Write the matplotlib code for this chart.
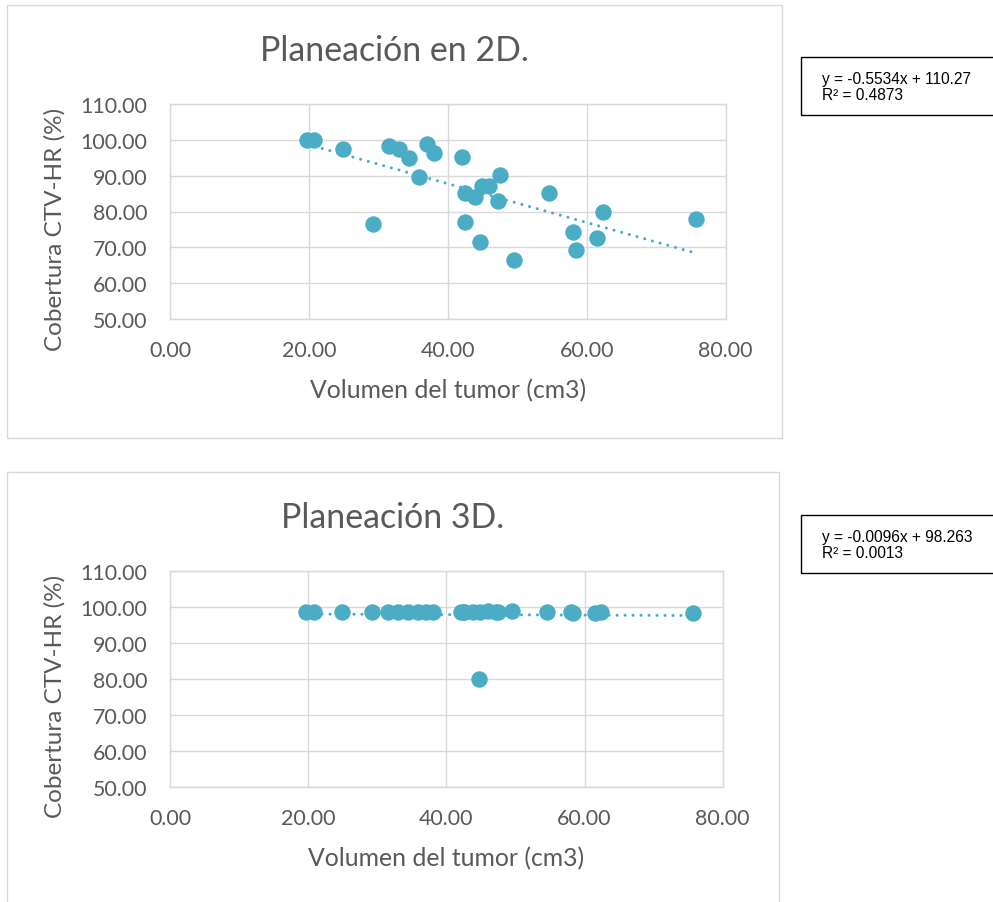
import numpy as np
import matplotlib
matplotlib.use("Agg")
import matplotlib.pyplot as plt
from matplotlib.patches import Rectangle
from matplotlib.ticker import FormatStrFormatter, MultipleLocator

# ---------------- data ----------------
volumen = [19.7, 20.8, 24.9, 29.2, 31.6, 33.0, 34.4, 35.9, 37.0, 38.0,
           42.1, 42.5, 42.5, 43.9, 44.7, 44.9, 46.0, 47.2, 47.5, 49.5,
           54.5, 58.0, 58.4, 61.5, 62.4, 75.7]
cobertura_2d = [100.0, 100.0, 97.4, 76.5, 98.2, 97.4, 94.9, 89.5, 98.8, 96.3,
                95.3, 85.3, 77.2, 84.0, 71.4, 87.0, 87.2, 82.9, 90.2, 66.6,
                85.3, 74.4, 69.3, 72.7, 79.8, 77.8]
cobertura_3d = [98.5, 98.5, 98.7, 98.7, 98.5, 98.6, 98.5, 98.5, 98.5, 98.5,
                98.5, 98.5, 98.6, 98.6, 80.0, 98.5, 98.9, 98.5, 98.6, 98.8,
                98.5, 98.7, 98.4, 98.4, 98.6, 98.4]
titles = ["Planeación en 2D.", "Planeación 3D."]
equations = ["y = -0.5534x + 110.27\nR² = 0.4873",
             "y = -0.0096x + 98.263\nR² = 0.0013"]
xlabel = "Volumen del tumor (cm3)"
ylabel = "Cobertura CTV-HR (%)"

# ---------------- styling ----------------
W, H = 993, 903
FONT = "Lato"
TXT = "#595959"
GRID = "#D9D9D9"
MARK = "#4BACC6"

fig = plt.figure(figsize=(W / 100, H / 100), dpi=100)
fig.patch.set_facecolor("white")


def fx(px):
    return px / W


def fy(py):
    return 1 - py / H


def frame(x0, y0, x1, y1, color, lw):
    r = Rectangle((fx(x0), fy(y1)), fx(x1) - fx(x0), fy(y0) - fy(y1),
                  transform=fig.transFigure, fill=False, edgecolor=color,
                  linewidth=lw, clip_on=False)
    fig.add_artist(r)


layouts = [
    dict(frame=(6.7, 6, 782, 439), plot=(170, 105, 725.6, 320), title_y=51,
         ylab_y=229, box=(58, 116)),
    dict(frame=(6.7, 473, 779, 930), plot=(170, 572, 722.7, 787.7), title_y=518,
         ylab_y=696, box=(516, 574)),
]

series = [cobertura_2d, cobertura_3d]

for i, lay in enumerate(layouts):
    fx0, fy0, fx1, fy1 = lay["frame"]
    frame(fx0, fy0, fx1, fy1, GRID, 1.0)
    l, t, r, b = lay["plot"]
    ax = fig.add_axes([fx(l), fy(b), fx(r) - fx(l), fy(t) - fy(b)])
    x = np.array(volumen)
    y = np.array(series[i])

    ax.scatter(x, y, s=140, color=MARK, zorder=3, linewidths=0)
    m, c = np.polyfit(x, y, 1)
    xs = np.array([x.min(), x.max()])
    ax.plot(xs, m * xs + c, color=MARK, lw=2.2, linestyle=(0, (0.01, 2.6)),
            dash_capstyle="round", zorder=4)

    ax.set_xlim(0, 80)
    ax.set_ylim(50, 110)
    ax.xaxis.set_major_locator(MultipleLocator(20))
    ax.yaxis.set_major_locator(MultipleLocator(10))
    ax.xaxis.set_major_formatter(FormatStrFormatter("%.2f"))
    ax.yaxis.set_major_formatter(FormatStrFormatter("%.2f"))
    ax.grid(True, color=GRID, lw=1.0, zorder=0)
    ax.set_axisbelow(True)
    for s in ax.spines.values():
        s.set_color(GRID)
        s.set_linewidth(1.0)
    ax.tick_params(length=0, labelsize=15.4, labelcolor=TXT)
    ax.tick_params(axis="y", pad=16.5)
    ax.tick_params(axis="x", pad=15)
    for lab in ax.get_xticklabels() + ax.get_yticklabels():
        lab.set_fontfamily(FONT)

    fig.text(fx((fx0 + fx1) / 2), fy(lay["title_y"]), titles[i], ha="center",
             va="center", fontsize=24.4, color=TXT, family=FONT)
    fig.text(fx((l + r) / 2), fy(b + 71), xlabel, ha="center", va="center",
             fontsize=17.8, color=TXT, family=FONT)
    fig.text(fx(55), fy(lay["ylab_y"]), ylabel, ha="center", va="center",
             rotation=90, fontsize=17.5, color=TXT, family=FONT)

    by0, by1 = lay["box"]
    frame(801, by0, 1010, by1, "black", 1.0)
    fig.text(fx(821.5), fy(by0 + 14), equations[i], ha="left", va="top",
             fontsize=11.2, color="black", family="Liberation Sans",
             linespacing=1.08)

fig.savefig("out.png", dpi=100)
